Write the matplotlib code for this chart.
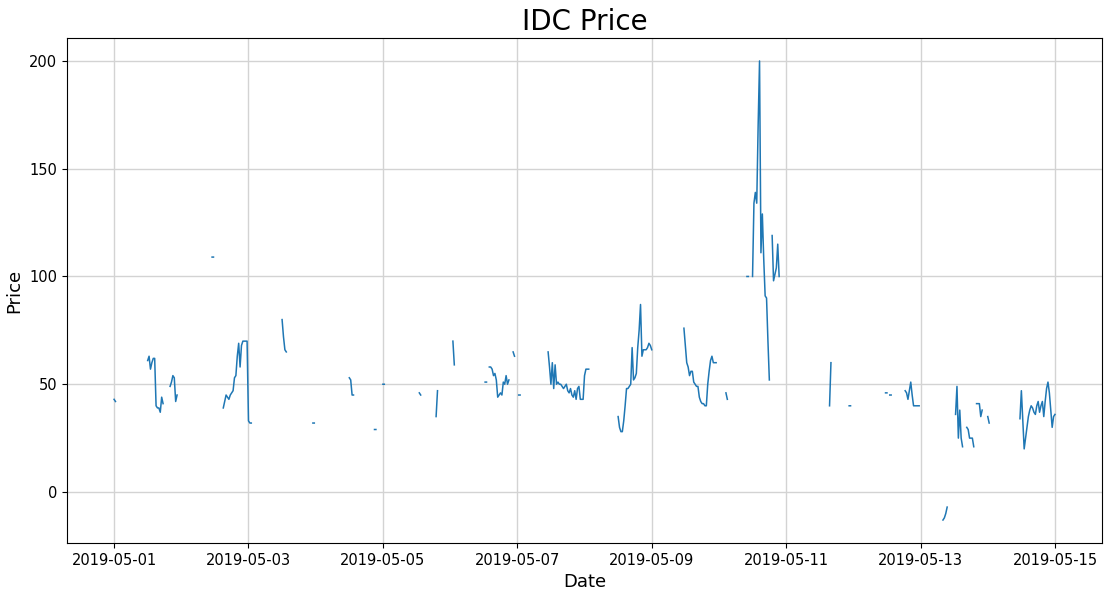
import numpy as np
import pandas as pd
import matplotlib
matplotlib.use('Agg')
import matplotlib.pyplot as plt
import matplotlib.dates as mdates

# half-hourly IDC prices, only the stretches that have data (rest is missing)
segment_starts = [
    '2019-05-01 00:00', '2019-05-01 12:00', '2019-05-01 20:00', '2019-05-02 11:00',
    '2019-05-02 15:00', '2019-05-03 12:00', '2019-05-03 23:00', '2019-05-04 12:00',
    '2019-05-04 21:00', '2019-05-05 00:00', '2019-05-05 13:00', '2019-05-05 19:00',
    '2019-05-06 01:00', '2019-05-06 12:30', '2019-05-06 14:00', '2019-05-06 22:30',
    '2019-05-07 00:30', '2019-05-07 11:00', '2019-05-08 12:00', '2019-05-09 11:30',
    '2019-05-10 02:30', '2019-05-10 10:00', '2019-05-10 12:00', '2019-05-10 19:00',
    '2019-05-11 15:30', '2019-05-11 22:30', '2019-05-12 11:30', '2019-05-12 13:00',
    '2019-05-12 18:30', '2019-05-13 08:00', '2019-05-13 12:30', '2019-05-13 16:30',
    '2019-05-13 20:00', '2019-05-14 00:00', '2019-05-14 11:30',
]

segment_values = [
    [43, 42],
    [61, 63, 57, 60, 62, 62, 40, 39, 39, 37, 44, 41],
    [49, 51, 54, 53, 42, 45],
    [109, 109],
    [39, 42, 45, 44, 43, 45, 46, 47, 53, 54, 63, 69, 58, 68, 70, 70, 70, 70, 33, 32, 32],
    [80, 72, 66, 65],
    [32, 32],
    [53, 52, 45, 45],
    [29, 29],
    [50, 50],
    [46, 45],
    [35, 47],
    [70, 59],
    [51, 51],
    [58, 58, 57, 54, 55, 52, 44, 45, 46, 45, 51, 50, 54, 50, 52],
    [65, 63],
    [45, 45],
    [65, 58, 50, 60, 48, 59, 50, 51, 50, 50, 49, 48, 49, 50, 47, 46, 48, 45, 44, 47,
     43, 48, 49, 43, 43, 43, 54, 57, 57, 57],
    [35, 30, 28, 28, 33, 40, 48, 48, 49, 50, 67, 52, 53, 55, 67, 75, 87, 63, 66, 66,
     66, 67, 69, 68, 66],
    [76, 68, 60, 58, 54, 56, 56, 51, 50, 49, 49, 44, 42, 41, 41, 40, 40, 50, 56, 61,
     63, 60, 60, 60],
    [46, 43],
    [100, 100],
    [100, 134, 139, 134, 170, 200, 111, 129, 108, 91, 90, 70, 52],
    [119, 98, 101, 104, 115, 100],
    [40, 60],
    [40, 40],
    [46, 46],
    [45, 45],
    [47, 46, 43, 47, 51, 45, 40, 40, 40, 40, 40],
    [-13, -12, -10, -7],
    [36, 49, 25, 38, 25, 21],
    [30, 29, 25, 25, 25, 21],
    [41, 41, 41, 35, 38],
    [35, 32],
    [34, 47, 34, 20, 25, 30, 35, 38, 40, 39, 37, 36, 40, 42, 37, 40, 42, 35, 42, 48,
     51, 46, 38, 30, 35, 36],
]

idx = pd.date_range('2019-05-01 00:00', '2019-05-15 00:00', freq='30min')
price = pd.Series(np.nan, index=idx)
for start, vals in zip(segment_starts, segment_values):
    i = idx.get_loc(pd.Timestamp(start))
    price.iloc[i:i + len(vals)] = vals

fig = plt.figure(figsize=(11.06, 5.90), dpi=100)
ax = fig.add_axes([0.0606, 0.0797, 0.9358, 0.8559])

ax.plot(price.index, price.values, color='#1f77b4', linewidth=1.1)
ax.grid(True, color='#d3d3d3', linewidth=1.0)

ax.xaxis.set_major_locator(mdates.DayLocator(bymonthday=[1, 3, 5, 7, 9, 11, 13, 15]))
ax.xaxis.set_major_formatter(mdates.DateFormatter('%Y-%m-%d'))
ax.tick_params(labelsize=10.5)

ax.set_title('IDC Price', fontsize=20)
ax.set_xlabel('Date', fontsize=13)
ax.set_ylabel('Price', fontsize=13)

fig.savefig('out.png', dpi=100)
